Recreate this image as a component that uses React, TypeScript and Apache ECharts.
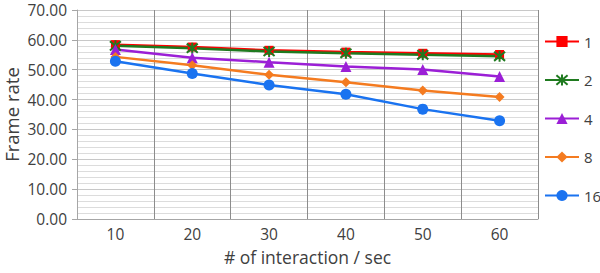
import React, { useEffect, useRef } from "react";
import * as echarts from "echarts";

// Interactions per second (x axis)
const interactionRates = ["10", "20", "30", "40", "50", "60"];

// Frame rate for each number of concurrent objects
const fps1 = [58.4, 57.6, 56.5, 55.9, 55.5, 55.1];
const fps2 = [58.0, 57.2, 56.1, 55.5, 55.0, 54.5];
const fps4 = [56.8, 54.0, 52.5, 51.1, 50.1, 47.7];
const fps8 = [54.3, 51.5, 48.3, 45.8, 43.0, 40.9];
const fps16 = [52.8, 48.7, 44.9, 41.8, 36.8, 32.9];

const seriesNames = ["1", "2", "4", "8", "16"];

const FONT = "'Open Sans', Lato, sans-serif";
const TEXT = "#404040";

// Asterisk-like star marker
const STAR = "path://M-1,-1L1,1M-1,1L1,-1M0,-1.2L0,1.2";

export default function App() {
  const ref = useRef<HTMLDivElement>(null);

  useEffect(() => {
    if (!ref.current) return;
    const chart = echarts.init(ref.current, undefined, { renderer: "svg" });

    const mk = (
      name: string,
      data: number[],
      color: string,
      symbol: string,
      symbolSize: number,
      extra: any = {}
    ) => ({
      name,
      type: "line",
      data,
      symbol,
      symbolSize,
      showSymbol: true,
      lineStyle: { color, width: 2.5 },
      itemStyle: { color, borderColor: color, borderWidth: 0, ...extra },
      emphasis: { disabled: true },
    });

    chart.setOption({
      animation: false,
      backgroundColor: "#ffffff",
      textStyle: { fontFamily: FONT },
      grid: { left: 77, right: 62, top: 10, bottom: 54, outerBoundsMode: "none" },
      legend: {
        orient: "vertical",
        left: 539,
        top: 29,
        itemWidth: 34,
        itemHeight: 14,
        itemGap: 23.5,
        data: seriesNames,
        textStyle: { color: TEXT, fontSize: 15, fontFamily: FONT },
      },
      xAxis: {
        type: "category",
        data: interactionRates,
        boundaryGap: true,
        name: "# of interaction / sec",
        nameLocation: "middle",
        nameGap: 29,
        nameTextStyle: { color: TEXT, fontSize: 17.5, fontFamily: FONT },
        axisLine: { lineStyle: { color: "#a6a6a6", width: 1 } },
        axisTick: { show: false },
        axisLabel: { color: TEXT, fontSize: 15.5, margin: 7, fontFamily: FONT },
        splitLine: { show: true, lineStyle: { color: "#8c8c8c", width: 1 } },
      },
      yAxis: {
        type: "value",
        min: 0,
        max: 70,
        interval: 10,
        name: "Frame rate",
        nameLocation: "middle",
        nameMoveOverlap: false,
        nameGap: 56,
        nameTextStyle: { color: TEXT, fontSize: 18.5, fontFamily: FONT },
        axisLine: { show: true, lineStyle: { color: "#a6a6a6", width: 1 } },
        axisTick: { show: true, length: 5, lineStyle: { color: "#a6a6a6" } },
        axisLabel: {
          color: TEXT,
          fontSize: 15.5,
          margin: 10,
          fontFamily: FONT,
          formatter: (v: number) => v.toFixed(2),
        },
        splitLine: { show: true, lineStyle: { color: "#c8c8c8", width: 1 } },
        minorTick: { show: false, splitNumber: 5 },
        minorSplitLine: { show: true, lineStyle: { color: "#dcdcdc", width: 1 } },
      },
      series: [
        mk("1", fps1, "#ff0000", "rect", 9),
        mk("2", fps2, "#1f7a1f", STAR, 11, { borderWidth: 2, color: "#1f7a1f" }),
        mk("4", fps4, "#9b1fd6", "triangle", 11),
        mk("8", fps8, "#f47b20", "diamond", 10),
        mk("16", fps16, "#1a73f0", "circle", 11),
      ],
    });

    return () => chart.dispose();
  }, []);

  return (
    <div
      ref={ref}
      style={{ position: "fixed", left: 0, top: 0, width: 600, height: 273, background: "#fff" }}
    />
  );
}
